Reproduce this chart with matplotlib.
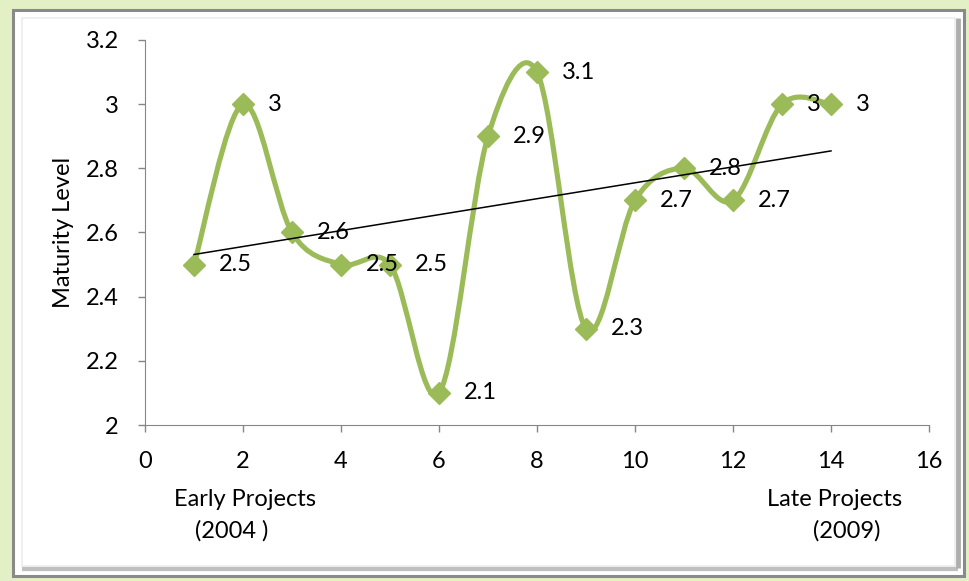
import matplotlib
matplotlib.use("Agg")
import matplotlib.pyplot as plt
import numpy as np
from matplotlib.path import Path
from matplotlib.patches import PathPatch, Rectangle

# Maturity level of each project, ordered from early to late
projects = np.arange(1, 15)
maturity = np.array([2.5, 3, 2.6, 2.5, 2.5, 2.1, 2.9, 3.1, 2.3, 2.7, 2.8, 2.7, 3, 3])
labels = ["2.5", "3", "2.6", "2.5", "2.5", "2.1", "2.9", "3.1", "2.3", "2.7", "2.8", "2.7", "3", "3"]

x_ticks = np.arange(0, 17, 2)
y_ticks = [2, 2.2, 2.4, 2.6, 2.8, 3, 3.2]
y_tick_labels = ["2", "2.2", "2.4", "2.6", "2.8", "3", "3.2"]

GREEN = "#9bbb59"
FS = 17
plt.rcParams["font.family"] = ["Lato", "DejaVu Sans"]


def smooth_path(ax, x, y):
    """Smoothed curve through the points, built as cubic Beziers in screen space.

    Control arms are a sixth of the neighbour-to-neighbour vector, clamped to
    half the length of the segment they belong to.
    """
    to_px = ax.transData
    pts = to_px.transform(np.column_stack([x, y]).astype(float))
    padded = np.vstack([pts[0], pts, pts[-1]])
    verts = [pts[0]]
    codes = [Path.MOVETO]
    for i in range(1, len(padded) - 2):
        p0, p1, p2, p3 = padded[i - 1], padded[i], padded[i + 1], padded[i + 2]
        d12 = np.hypot(*(p2 - p1))
        d02 = np.hypot(*(p2 - p0))
        d13 = np.hypot(*(p3 - p1))
        f1 = 1 / 6 if d02 / 6 < d12 / 2 else d12 / (2 * d02)
        f2 = 1 / 6 if d13 / 6 < d12 / 2 else d12 / (2 * d13)
        c1 = p1 + (p2 - p0) * f1
        c2 = p2 - (p3 - p1) * f2
        verts += [c1, c2, p2]
        codes += [Path.CURVE4] * 3
    verts = to_px.inverted().transform(np.array(verts))
    return Path(verts, codes)


fig = plt.figure(figsize=(9.69, 5.81), dpi=100)
fig.patch.set_facecolor("#e3f0c6")

# chart frame drawn in a background axes: grey border, white panel, soft bevel
bg = fig.add_axes([0, 0, 1, 1], zorder=-10)
bg.set_xlim(0, 969)
bg.set_ylim(581, 0)
bg.axis("off")
bg.add_patch(Rectangle((13, 10), 951, 566, facecolor="white", edgecolor="#8a8a8a", lw=2.2))
bg.add_patch(Rectangle((22, 18), 933, 548, facecolor="none", edgecolor="#ececec", lw=1.2))
bg.plot([958, 958], [18, 568], color="#9a9a9a", lw=3.5, alpha=0.8, solid_capstyle="butt")
bg.plot([22, 958], [569, 569], color="#b0b0b0", lw=3, alpha=0.8, solid_capstyle="butt")

ax = fig.add_axes([145 / 969, 1 - 425 / 581, 784 / 969, 385 / 581])
ax.set_facecolor("none")
ax.set_xlim(0, 16)
ax.set_ylim(2, 3.2)

curve = PathPatch(smooth_path(ax, projects, maturity), facecolor="none", edgecolor=GREEN,
                  lw=3.7, capstyle="round", joinstyle="round", zorder=2)
ax.add_patch(curve)
ax.plot(projects, maturity, linestyle="none", marker="D", markersize=11.5,
        color=GREEN, markeredgecolor=GREEN, zorder=3)

# linear trend
slope, intercept = np.polyfit(projects, maturity, 1)
ax.plot([projects[0], projects[-1]], [slope * projects[0] + intercept, slope * projects[-1] + intercept],
        color="black", lw=1.1, zorder=4)

for xv, yv, txt in zip(projects, maturity, labels):
    ax.annotate(txt, xy=(xv, yv), xytext=(18, 0), textcoords="offset points",
                ha="left", va="center", fontsize=FS, zorder=5)

ax.set_xticks(x_ticks)
ax.set_yticks(y_ticks)
ax.set_yticklabels(y_tick_labels)
ax.tick_params(axis="both", direction="out", length=5, width=1, color="#868686",
               labelsize=FS)
ax.tick_params(axis="x", pad=14)
ax.tick_params(axis="y", pad=14)
for side in ["top", "right"]:
    ax.spines[side].set_visible(False)
for side in ["left", "bottom"]:
    ax.spines[side].set_color("#868686")
ax.set_ylabel("Maturity Level", fontsize=FS, labelpad=8)

fig.text(245 / 969, 1 - 499 / 581, "Early Projects", ha="center", va="center", fontsize=FS)
fig.text(232 / 969, 1 - 531 / 581, "(2004 )", ha="center", va="center", fontsize=FS)
fig.text(835 / 969, 1 - 499 / 581, "Late Projects", ha="center", va="center", fontsize=FS)
fig.text(847 / 969, 1 - 531 / 581, "(2009)", ha="center", va="center", fontsize=FS)

fig.savefig("out.png", dpi=100, facecolor=fig.get_facecolor())
